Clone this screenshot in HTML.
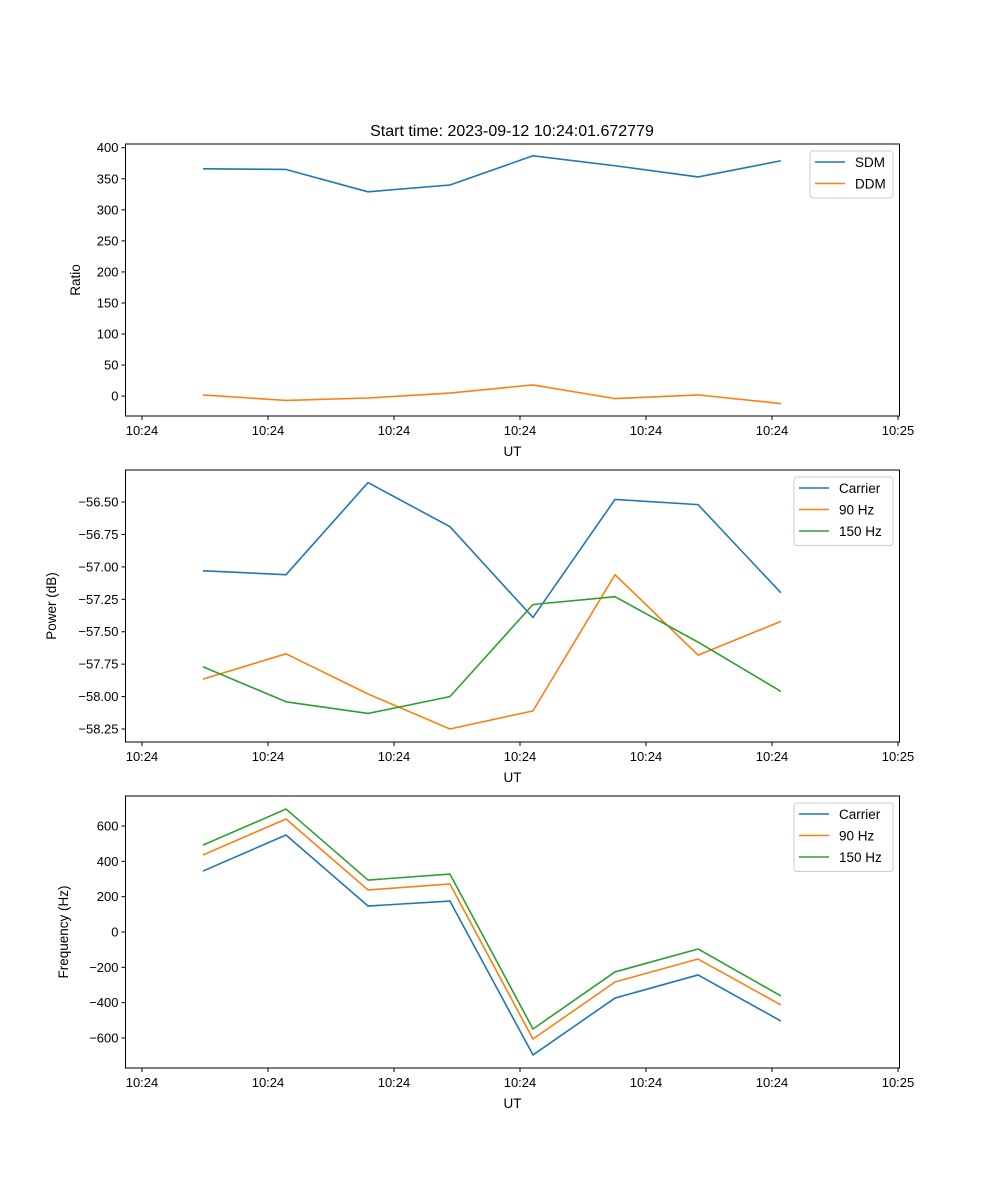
<!DOCTYPE html>
<html><head><meta charset="utf-8"><style>
body{margin:0;background:#fff;}
svg{display:block;font-family:"Liberation Sans","DejaVu Sans",sans-serif;}
</style></head><body>
<svg id="fig" width="1000" height="1200" viewBox="0 0 1000 1200" xmlns="http://www.w3.org/2000/svg">
<rect width="1000" height="1200" fill="#fff"/>
<text x="512" y="136" text-anchor="middle" font-size="16">Start time: 2023-09-12 10:24:01.672779</text>
</svg>
<script>
const xSeconds = [4.84, 11.43, 17.94, 24.44, 31.03, 37.54, 44.13, 50.71];
const xTickSeconds = [0, 10, 20, 30, 40, 50, 60];
const xTickLabels = ["10:24","10:24","10:24","10:24","10:24","10:24","10:25"];
const sdm = [366, 365, 329, 340, 387, 371, 353, 379];
const ddm = [2, -7, -3, 5, 18, -4, 2, -12];
const ratioTicks = [0, 50, 100, 150, 200, 250, 300, 350, 400];
const powerCarrier = [-57.03, -57.06, -56.35, -56.69, -57.39, -56.48, -56.52, -57.20];
const power90 = [-57.865, -57.67, -57.98, -58.25, -58.11, -57.06, -57.68, -57.42];
const power150 = [-57.77, -58.04, -58.13, -58.00, -57.29, -57.23, -57.58, -57.96];
const powerTicks = [-58.25, -58.00, -57.75, -57.50, -57.25, -57.00, -56.75, -56.50];
const freqCarrier = [345, 549, 147, 175, -696, -374, -243, -504];
const freq90 = [436, 640, 238, 272, -606, -283, -153, -413];
const freq150 = [492, 696, 294, 328, -549, -226, -96, -362];
const freqTicks = [-600, -400, -200, 0, 200, 400, 600];

const NS = "http://www.w3.org/2000/svg";
const svg = document.getElementById('fig');
function mk(tag, attrs, parent, txt){
  const e = document.createElementNS(NS, tag);
  for (const k in attrs) e.setAttribute(k, attrs[k]);
  if (txt !== undefined) e.textContent = txt;
  (parent || svg).appendChild(e);
  return e;
}
const L = 125.5, R = 899.5;
const xScale = s => 142 + s * 12.6;

function panel(name, top, bottom, yMin, yMax, ticks, tickFmt, yTitle, yx, series, legend){
  const g = mk('g', {});
  
  
  const yScale = v => bottom - (v - yMin) / (yMax - yMin) * (bottom - top);
  series.forEach(s => {
    const pts = s.vals.map((v, i) => xScale(xSeconds[i]).toFixed(2) + ',' + yScale(v).toFixed(2)).join(' ');
    const pl = mk('polyline', {points: pts, fill: 'none', stroke: s.color, 'stroke-width': 1.6, 'stroke-linejoin': 'round'}, g);
    
    
  });
  const fr = mk('rect', {x: L, y: top, width: R - L, height: bottom - top, fill: 'none', stroke: '#000', 'stroke-width': 1}, g);
  
  
  xTickSeconds.forEach((s, i) => {
    const x = xScale(s);
    mk('line', {x1: x, x2: x, y1: bottom, y2: bottom + 4, stroke: '#000'}, g);
    const t = mk('text', {x: x, y: bottom + 19, 'text-anchor': 'middle', 'font-size': 13}, g, xTickLabels[i]);
    
    
  });
  const xt = mk('text', {x: (L + R) / 2, y: bottom + 40, 'text-anchor': 'middle', 'font-size': 13.5}, g, 'UT');
  
  
  ticks.forEach(v => {
    const y = yScale(v);
    mk('line', {x1: L - 4, x2: L, y1: y, y2: y, stroke: '#000'}, g);
    const t = mk('text', {x: L - 7, y: y + 4.5, 'text-anchor': 'end', 'font-size': 13}, g, tickFmt(v));
    
    
  });
  const cy = (top + bottom) / 2;
  const yt = mk('text', {x: yx, y: cy, 'text-anchor': 'middle', 'font-size': 13.5, transform: `rotate(-90 ${yx} ${cy})`}, g, yTitle);
  
  
  const lg = mk('g', {}, g);
  
  
  mk('rect', {x: legend.x, y: top + 7, width: legend.w, height: series.length * 21.5 + 4, rx: 3, fill: '#fff', 'fill-opacity': 0.8, stroke: '#ccc'}, lg);
  series.forEach((s, i) => {
    const y = top + 18 + i * 21.5;
    mk('line', {x1: legend.x + 5, x2: legend.x + 35, y1: y, y2: y, stroke: s.color, 'stroke-width': 1.6}, lg);
    const t = mk('text', {x: legend.x + 45, y: y + 5, 'font-size': 13.5}, lg, s.label);
    
    
  });
}
const B = '#1f77b4', O = '#ff7f0e', G = '#2ca02c';
panel('ratio', 144, 416, -32, 406, ratioTicks, v => String(v), 'Ratio', 80,
  [{key:'sdm', label:'SDM', vals: sdm, color: B}, {key:'ddm', label:'DDM', vals: ddm, color: O}], {x: 810, w: 83});
panel('power', 470, 742, -58.35, -56.253, powerTicks, v => v.toFixed(2).replace('-', '\u2212'), 'Power (dB)', 56,
  [{key:'carrier', label:'Carrier', vals: powerCarrier, color: B}, {key:'90hz', label:'90 Hz', vals: power90, color: O}, {key:'150hz', label:'150 Hz', vals: power150, color: G}], {x: 794, w: 99});
panel('frequency', 796, 1068, -770, 770, freqTicks, v => String(v).replace('-', '\u2212'), 'Frequency (Hz)', 68,
  [{key:'carrier', label:'Carrier', vals: freqCarrier, color: B}, {key:'90hz', label:'90 Hz', vals: freq90, color: O}, {key:'150hz', label:'150 Hz', vals: freq150, color: G}], {x: 794, w: 99});
</script>
</body></html>
